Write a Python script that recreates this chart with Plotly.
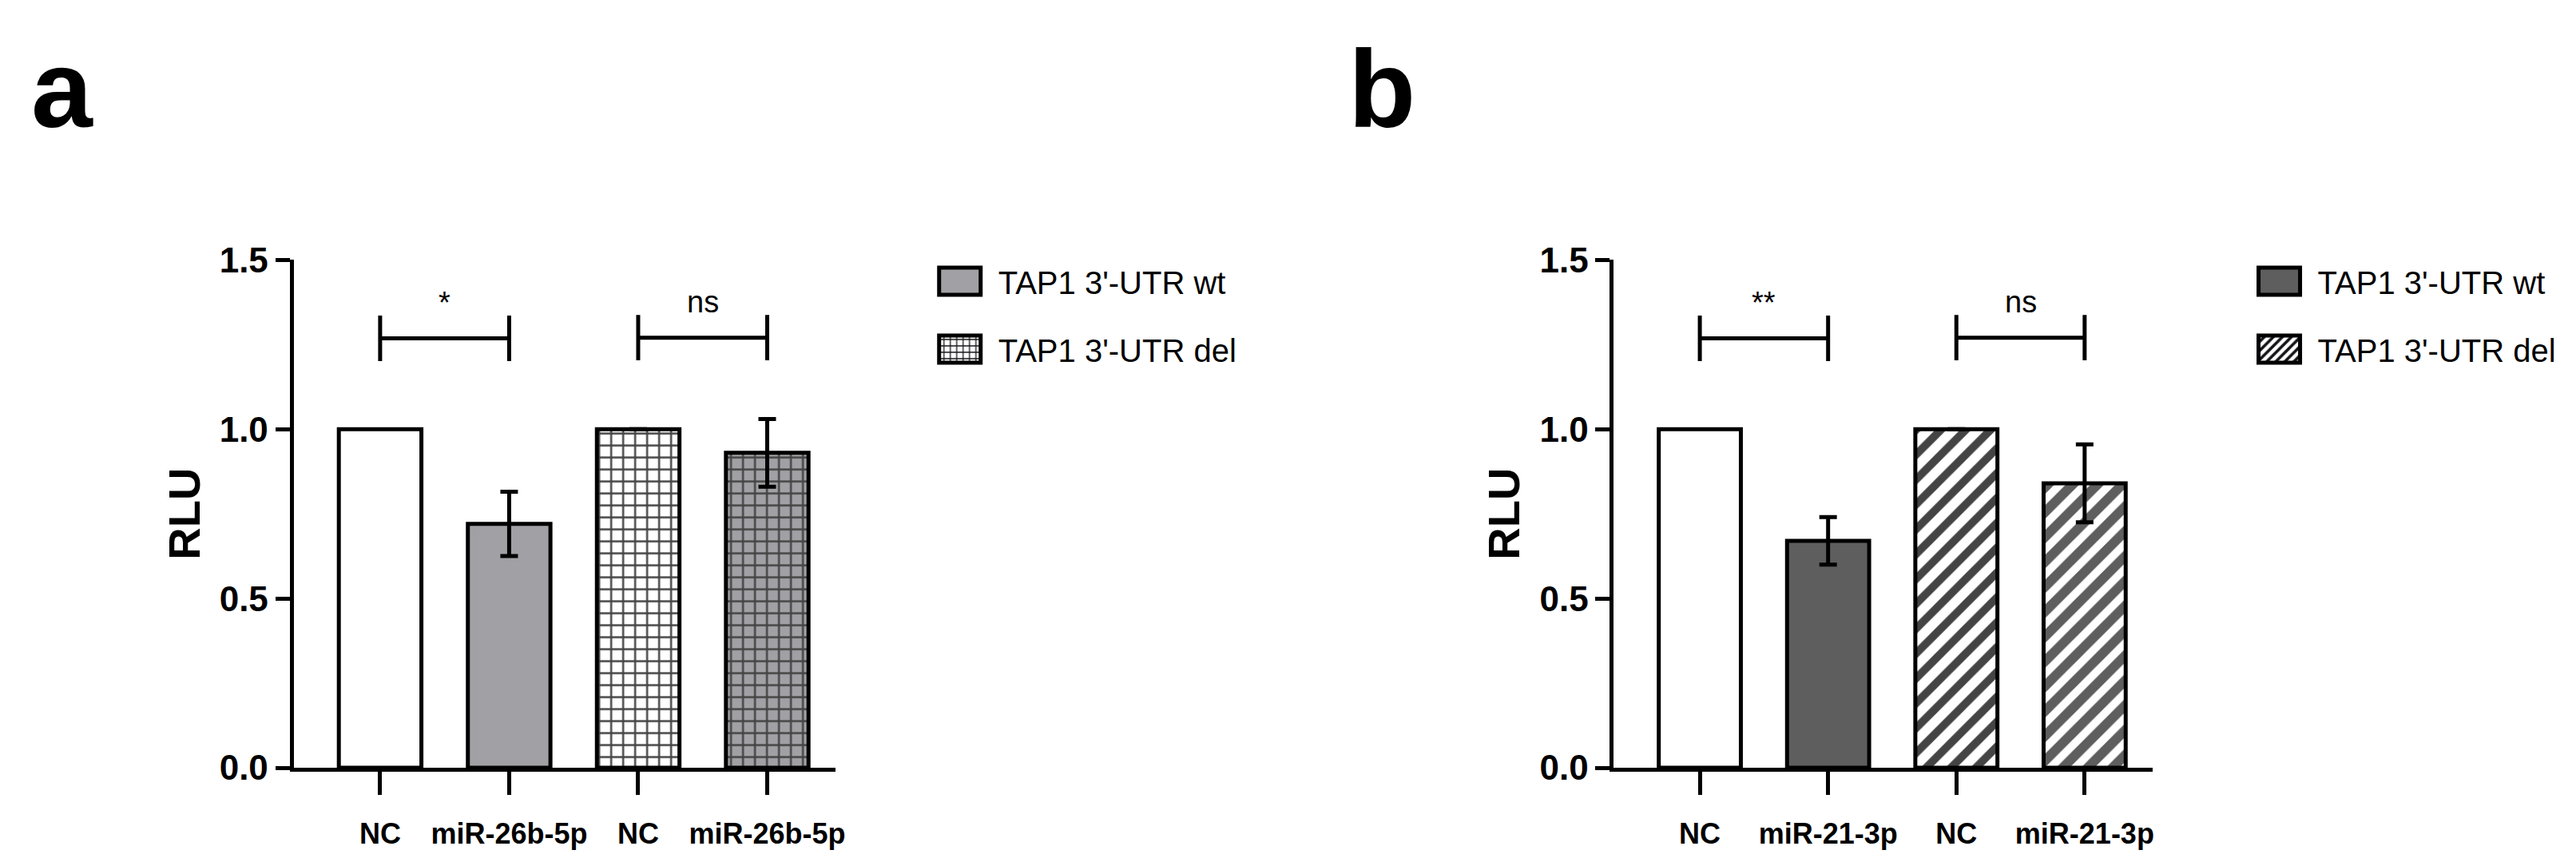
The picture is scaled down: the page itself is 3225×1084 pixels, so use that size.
import plotly.graph_objects as go

# ---- values ----
groups_a = ["NC", "miR-26b-5p", "NC", "miR-26b-5p"]
rlu_a = [1.0, 0.72, 1.0, 0.93]
sem_a = [0.0, 0.095, 0.0, 0.10]
sig_a = ["*", "ns"]

groups_b = ["NC", "miR-21-3p", "NC", "miR-21-3p"]
rlu_b = [1.0, 0.67, 1.0, 0.84]
sem_b = [0.0, 0.07, 0.0, 0.115]
sig_b = ["**", "ns"]

legend_names = ["TAP1 3'-UTR wt", "TAP1 3'-UTR del"]
bracket_y = [1.268, 1.27]
y_ticks = [0, 0.5, 1.0, 1.5]
y_ticklabels = ["0.0", "0.5", "1.0", "1.5"]

# ---- style ----
W, H = 3225, 1084
font_fam = "Liberation Sans, Arial, sans-serif"
gray_a = "#a0a0a5"
gray_b = "#5e5e5e"
pos = [0, 1, 2, 3]
bar_w = 0.64
lw = 5

fig = go.Figure()


def add_panel(n, groups, rlu, sem, sig, fill, shape, psize, psolid):
    xa, ya = ("x", "y") if n == 1 else ("x%d" % n, "y%d" % n)
    leg = "legend" if n == 1 else "legend%d" % n
    line = dict(color="black", width=lw)
    err = dict(type="data", color="black", thickness=lw, width=11)

    # NC, wild type (white, no legend entry)
    fig.add_trace(go.Bar(
        x=pos[:1], y=rlu[:1], width=bar_w, xaxis=xa, yaxis=ya,
        marker=dict(color="white", line=line), showlegend=False,
        hoverinfo="skip"))
    # miRNA, wild type
    fig.add_trace(go.Bar(
        x=pos[1:2], y=rlu[1:2], width=bar_w, xaxis=xa, yaxis=ya,
        marker=dict(color=fill, line=line),
        error_y=dict(array=sem[1:2], **err),
        name=legend_names[0], legend=leg, legendgroup="wt%d" % n))
    # deletion construct, hatched
    fig.add_trace(go.Bar(
        x=pos[2:4], y=rlu[2:4], width=bar_w, xaxis=xa, yaxis=ya,
        marker=dict(color=["white", fill], line=line,
                    pattern=dict(shape=shape, size=psize, solidity=psolid,
                                 fgcolor="#141418", fgopacity=1,
                                 fillmode="overlay")),
        error_y=dict(array=sem[2:4], **err),
        name=legend_names[1], legend=leg, legendgroup="del%d" % n))

    # significance brackets |---|
    bx, by = [], []
    for (i, j), yb in zip([(0, 1), (2, 3)], bracket_y):
        bx += [pos[i], pos[j], None, pos[i], pos[i], None, pos[j], pos[j], None]
        by += [yb, yb, None, yb - 0.067, yb + 0.067, None, yb - 0.067, yb + 0.067, None]
    fig.add_trace(go.Scatter(x=bx, y=by, xaxis=xa, yaxis=ya, mode="lines",
                             line=dict(color="black", width=lw),
                             showlegend=False, hoverinfo="skip"))
    for (i, j), yb, s in zip([(0, 1), (2, 3)], bracket_y, sig):
        fig.add_annotation(x=(pos[i] + pos[j]) / 2, y=yb + 0.05, xref=xa, yref=ya,
                           text=s, showarrow=False, yanchor="bottom",
                           font=dict(family=font_fam, size=38, color="black"))
    return groups


g1 = add_panel(1, groups_a, rlu_a, sem_a, sig_a, gray_a, "+", 15, 0.3)
g2 = add_panel(2, groups_b, rlu_b, sem_b, sig_b, gray_b, "/", 22, 0.45)

axis_common = dict(showline=True, linecolor="black", linewidth=lw,
                   ticks="outside", tickwidth=lw, tickcolor="black",
                   showgrid=False, zeroline=False)

# pixel layout of the two panels
y_dom = [(H - 972) / H, (H - 306) / H]
x_rng = [-0.67, 3.53]
for n, (left, right), groups in [(1, (361, 1042), g1), (2, (2020, 2697), g2)]:
    sx = "xaxis" if n == 1 else "xaxis%d" % n
    sy = "yaxis" if n == 1 else "yaxis%d" % n
    fig.layout[sx] = dict(domain=[left / W, right / W], range=x_rng,
                          tickvals=pos, ticktext=groups, ticklen=29,
                          ticklabelstandoff=18,
                          tickfont=dict(family=font_fam, size=36, color="black", weight="bold"),
                          anchor="y" if n == 1 else "y%d" % n, **axis_common)
    fig.layout[sy] = dict(domain=y_dom, range=[0, 1.5], tickvals=y_ticks,
                          ticktext=y_ticklabels, ticklen=18,
                          tickfont=dict(family=font_fam, size=44, color="black", weight="bold"),
                          title=dict(text="RLU", standoff=8,
                                     font=dict(family=font_fam, size=56, color="black", weight="bold")),
                          anchor="x" if n == 1 else "x%d" % n, **axis_common)

leg_style = dict(font=dict(family=font_fam, size=40, color="black"),
                 bgcolor="rgba(0,0,0,0)", tracegroupgap=30, traceorder="grouped",
                 xanchor="left", yanchor="top", itemwidth=86)
fig.update_layout(
    legend=dict(x=1150 / W, y=(H - 300) / H, **leg_style),
    legend2=dict(x=2808 / W, y=(H - 300) / H, **leg_style),
)

# panel letters (kept inside the page so the text box is not clipped)
for txt, xp in [("a", 30), ("b", 1685)]:
    fig.add_annotation(x=xp / W, y=1, xref="paper", yref="paper",
                       text=txt, showarrow=False, xanchor="left", yanchor="top",
                       borderpad=0,
                       font=dict(family=font_fam, size=138, color="black", weight="bold"))

fig.update_layout(
    width=W, height=H, barmode="overlay",
    margin=dict(l=0, r=0, t=0, b=0),
    paper_bgcolor="white", plot_bgcolor="white",
    font=dict(family=font_fam, color="black"),
)

# enlarge the legend swatches to the boxy GraphPad look
post = """
var gd = document.getElementById('{plot_id}');
function bigSwatch() {
  gd.querySelectorAll('g.legendpoints path').forEach(function (p) {
    p.setAttribute('d', 'M26,17H-26V-17H26Z');
    p.style.strokeWidth = '5px';
    p.style.stroke = 'rgb(0,0,0)';
  });
}
bigSwatch();
gd.on('plotly_afterplot', bigSwatch);
setTimeout(bigSwatch, 200);
"""

fig.write_html("out.html", post_script=post)
